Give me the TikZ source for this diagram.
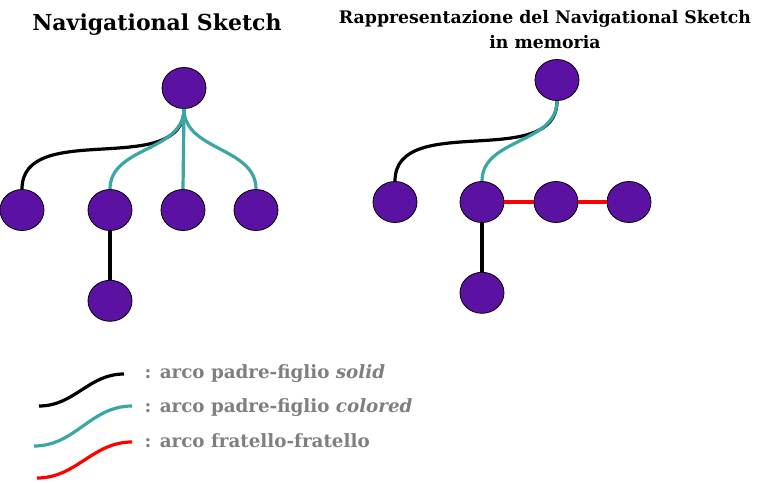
\documentclass[tikz,border=0pt]{standalone}
\usepackage{fontspec}
\setmainfont{DejaVu Serif}
\usetikzlibrary{positioning,shapes.geometric}
\definecolor{nodepurple}{HTML}{5B12A3}
\definecolor{arcteal}{HTML}{3AA6A6}
\definecolor{arcred}{HTML}{FF0000}
\definecolor{legendgray}{HTML}{7F7F7F}

\begin{document}
\begin{tikzpicture}[x=1pt,y=-1pt,
        vtx/.style={ellipse,draw=black,line width=.8pt,fill=nodepurple,
                    minimum width=44pt,minimum height=41pt,inner sep=0pt},
        solidarc/.style={line width=3.2pt,black},
        colarc/.style={line width=3.2pt,arcteal},
        sibarc/.style={line width=3.2pt,arcred},
        title/.style={font=\bfseries\fontsize{17.3}{25}\selectfont,align=center},
        legend/.style={font=\bfseries\fontsize{18.3}{22}\selectfont,text=legendgray,anchor=west}
      ]
        \useasboundingbox (0,0) rectangle (763,482);
        % titles
        \node[title,font=\bfseries\fontsize{22}{26}\selectfont] (ltitle) at (157,25) {Navigational Sketch};
        \node[title] (rtitle) at (545,30) {Rappresentazione del Navigational Sketch\\in memoria};
        % Navigational Sketch
        \node[vtx] (lroot) at (184,88) {};
        \node[vtx] (l1) at (22,210) {};
        \node[vtx] (l2) at (110,210) {};
        \node[vtx] (l3) at (183,210) {};
        \node[vtx] (l4) at (256,210) {};
        \node[vtx,below=49pt of l2] (lg) {};
        \draw[solidarc] (lroot.south) to[out=-90,in=90] (l1.north);
        \draw[colarc] (lroot.south) to[out=-90,in=90] (l2.north);
        \draw[colarc] (lroot.south) -- (l3.north);
        \draw[colarc] (lroot.south) to[out=-90,in=90] (l4.north);
        \draw[solidarc] (l2) -- (lg);
        % rappresentazione in memoria
        \node[vtx] (rroot) at (557,80) {};
        \node[vtx] (r1) at (395,202) {};
        \node[vtx] (r2) at (482,202) {};
        \node[vtx] (r3) at (556,202) {};
        \node[vtx] (r4) at (629,202) {};
        \node[vtx,below=49pt of r2] (rg) {};
        \draw[solidarc] (rroot.south) to[out=-90,in=90] (r1.north);
        \draw[colarc] (rroot.south) to[out=-90,in=90] (r2.north);
        \draw[sibarc] (r2) -- (r3);
        \draw[sibarc] (r3) -- (r4);
        \draw[solidarc] (r2) -- (rg);
        % legenda
        \coordinate (s0) at (39,406);  \coordinate (s1) at (124,374);
        \coordinate (c0) at (34,446);  \coordinate (c1) at (132,406);
        \coordinate (f0) at (37,478);  \coordinate (f1) at (132,442);
        \draw[solidarc] (s0) to[out=0,in=180] (s1);
        \draw[colarc] (c0) to[out=0,in=180] (c1);
        \draw[sibarc] (f0) to[out=0,in=180] (f1);
        \node[legend] (ls) at (141,374) {: arco padre-figlio \textit{solid}};
        \node[legend] (lc) at (141,408) {: arco padre-figlio \textit{colored}};
        \node[legend] (lf) at (141,441) {: arco fratello-fratello};
      \end{tikzpicture}
\end{document}
